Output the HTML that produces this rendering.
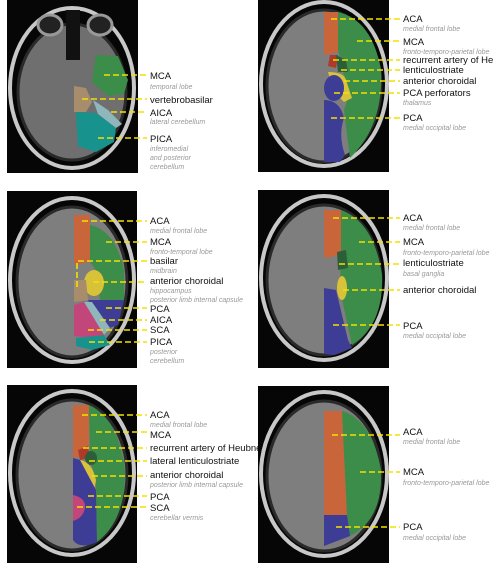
<!DOCTYPE html>
<html><head><meta charset="utf-8"><style>
html,body{margin:0;padding:0;background:#fff;width:493px;height:582px;overflow:hidden}
svg{display:block}
.t{font-family:"Liberation Sans",sans-serif;font-size:9.5px;fill:#111}
.s{font-family:"Liberation Sans",sans-serif;font-size:7px;font-style:italic;fill:#999}
.ld{stroke:#f2e200;stroke-width:1.6;stroke-dasharray:6 3;fill:none}
.sk{fill:none;stroke:#c8c8c8;stroke-width:4}
.br{fill:#7e7e7e;stroke:#2a2a2a;stroke-width:3}
</style></head><body>
<svg width="493" height="582" viewBox="0 0 493 582">

<!-- Panel 1 -->
<g>
<rect x="7" y="0" width="131" height="173" fill="#060606"/>
<ellipse cx="72" cy="88" rx="62" ry="80" class="sk"/>
<ellipse cx="72" cy="92" rx="54" ry="68" class="br" fill="#6f6f6f" style="fill:#6f6f6f"/>
<ellipse cx="50" cy="25" rx="12" ry="10" fill="#222" stroke="#999" stroke-width="3"/>
<ellipse cx="100" cy="25" rx="12" ry="10" fill="#222" stroke="#999" stroke-width="3"/>
<rect x="66" y="10" width="14" height="50" fill="#111"/>
<polygon points="96,55 118,56 128,80 124,94 108,96 92,82" fill="#3c8c4a"/>
<polygon points="74,86 86,88 92,102 86,112 74,112" fill="#a88d6c"/>
<polygon points="93,100 108,110 122,124 116,128 98,114" fill="#8fb5bd"/>
<polygon points="76,112 96,113 116,128 114,142 96,152 78,146" fill="#17928c"/>
<line x1="104" y1="75" x2="147" y2="75" class="ld"/><line x1="82" y1="99" x2="147" y2="99" class="ld"/>
<line x1="111" y1="112" x2="147" y2="112" class="ld"/><line x1="98" y1="138" x2="147" y2="138" class="ld"/>
<text x="150" y="79" class="t">MCA</text><text x="150" y="89" class="s">temporal lobe</text>
<text x="150" y="103" class="t">vertebrobasilar</text>
<text x="150" y="116" class="t">AICA</text><text x="150" y="124" class="s">lateral cerebellum</text>
<text x="150" y="142" class="t">PICA</text><text x="150" y="151" class="s">inferomedial</text><text x="150" y="160" class="s">and posterior</text><text x="150" y="169" class="s">cerebellum</text>
</g>

<!-- Panel 2 -->
<g>
<rect x="258" y="0" width="131" height="172" fill="#060606"/>
<ellipse cx="324" cy="84" rx="63" ry="82" class="sk"/>
<ellipse cx="324" cy="86" rx="57" ry="76" class="br"/>
<polygon points="324,12 338,12 338,52 324,55" fill="#c8653a"/>
<path d="M338,12 Q372,20 381,70 Q384,125 350,158 L344,110 Q352,90 344,75 L338,50 Z" fill="#3c8c4a"/>
<polygon points="330,55 338,55 336,68 328,66" fill="#b03a2a"/>
<polygon points="336,55 346,60 348,72 338,72" fill="#2d5e3a"/>
<path d="M328,72 Q344,72 346,80 L352,98 L344,102 L334,92 Z" fill="#d8c23a"/>
<ellipse cx="334" cy="88" rx="10" ry="13" fill="#3d3d96"/>
<path d="M324,100 Q340,100 344,118 Q338,135 345,155 L340,162 L324,162 Z" fill="#3d3d96"/>
<line x1="331" y1="19" x2="400" y2="19" class="ld"/><line x1="357" y1="41" x2="400" y2="41" class="ld"/>
<line x1="333" y1="60" x2="400" y2="60" class="ld"/><line x1="341" y1="70" x2="400" y2="70" class="ld"/>
<line x1="344" y1="81" x2="400" y2="81" class="ld"/><line x1="334" y1="93" x2="400" y2="93" class="ld"/>
<line x1="331" y1="118" x2="400" y2="118" class="ld"/>
<text x="403" y="22" class="t">ACA</text><text x="403" y="31" class="s">medial frontal lobe</text>
<text x="403" y="45" class="t">MCA</text><text x="403" y="54" class="s">fronto-temporo-parietal lobe</text>
<text x="403" y="63" class="t">recurrent artery of Heubner</text>
<text x="403" y="73" class="t">lenticulostriate</text>
<text x="403" y="84" class="t">anterior choroidal</text>
<text x="403" y="96" class="t">PCA perforators</text><text x="403" y="105" class="s">thalamus</text>
<text x="403" y="121" class="t">PCA</text><text x="403" y="130" class="s">medial occipital lobe</text>
</g>

<!-- Panel 3 -->
<g>
<rect x="7" y="191" width="130" height="177" fill="#060606"/>
<ellipse cx="72" cy="280" rx="62" ry="82" class="sk"/>
<ellipse cx="72" cy="282" rx="55" ry="75" class="br"/>
<polygon points="74,215 90,215 90,262 74,265" fill="#c8653a"/>
<path d="M90,225 Q115,230 124,270 L124,300 L100,300 L96,270 L90,262 Z" fill="#3c8c4a"/>
<ellipse cx="94" cy="283" rx="10" ry="13" fill="#d8c23a"/>
<polygon points="74,280 86,280 88,300 74,302" fill="#a88d6c"/>
<polygon points="88,300 124,300 118,325 104,330" fill="#3d3d96"/>
<polygon points="84,302 92,302 110,328 104,335" fill="#8fb5bd"/>
<polygon points="74,305 84,302 104,335 90,338 74,336" fill="#c2467a"/>
<polygon points="76,338 104,335 110,345 92,350 76,346" fill="#17928c"/>
<line x1="82" y1="221" x2="147" y2="221" class="ld"/><line x1="106" y1="242" x2="147" y2="242" class="ld"/>
<polyline points="147,261 77,261 77,289" class="ld"/><line x1="93" y1="282" x2="147" y2="282" class="ld"/>
<line x1="106" y1="308" x2="147" y2="308" class="ld"/><line x1="100" y1="320" x2="147" y2="320" class="ld"/>
<line x1="88" y1="330" x2="147" y2="330" class="ld"/><line x1="89" y1="342" x2="147" y2="342" class="ld"/>
<text x="150" y="224" class="t">ACA</text><text x="150" y="233" class="s">medial frontal lobe</text>
<text x="150" y="245" class="t">MCA</text><text x="150" y="254" class="s">fronto-temporal lobe</text>
<text x="150" y="264" class="t">basilar</text><text x="150" y="273" class="s">midbrain</text>
<text x="150" y="284" class="t">anterior choroidal</text><text x="150" y="293" class="s">hippocampus</text><text x="150" y="302" class="s">posterior limb internal capsule</text>
<text x="150" y="312" class="t">PCA</text><text x="150" y="323" class="t">AICA</text><text x="150" y="333" class="t">SCA</text>
<text x="150" y="345" class="t">PICA</text><text x="150" y="354" class="s">posterior</text><text x="150" y="363" class="s">cerebellum</text>
</g>

<!-- Panel 4 -->
<g>
<rect x="258" y="190" width="131" height="178" fill="#060606"/>
<ellipse cx="324" cy="278" rx="63" ry="82" class="sk"/>
<ellipse cx="324" cy="280" rx="57" ry="75" class="br"/>
<polygon points="324,210 341,210 341,255 324,258" fill="#c8653a"/>
<path d="M341,210 Q374,222 382,275 Q384,325 352,345 L340,290 L341,255 Z" fill="#3c8c4a"/>
<polygon points="337,252 346,250 348,268 338,270" fill="#2d5e3a"/>
<ellipse cx="342" cy="288" rx="5" ry="12" fill="#d8c23a"/>
<polygon points="324,288 336,290 348,340 352,348 334,355 324,354" fill="#3d3d96"/>
<line x1="333" y1="218" x2="400" y2="218" class="ld"/><line x1="359" y1="242" x2="400" y2="242" class="ld"/>
<line x1="339" y1="264" x2="400" y2="264" class="ld"/><line x1="343" y1="290" x2="400" y2="290" class="ld"/>
<line x1="333" y1="325" x2="400" y2="325" class="ld"/>
<text x="403" y="221" class="t">ACA</text><text x="403" y="230" class="s">medial frontal lobe</text>
<text x="403" y="245" class="t">MCA</text><text x="403" y="255" class="s">fronto-temporo-parietal lobe</text>
<text x="403" y="266" class="t">lenticulostriate</text><text x="403" y="276" class="s">basal ganglia</text>
<text x="403" y="293" class="t">anterior choroidal</text>
<text x="403" y="329" class="t">PCA</text><text x="403" y="338" class="s">medial occipital lobe</text>
</g>

<!-- Panel 5 -->
<g>
<rect x="7" y="385" width="130" height="178" fill="#060606"/>
<ellipse cx="72" cy="473" rx="62" ry="82" class="sk"/>
<ellipse cx="72" cy="475" rx="55" ry="75" class="br"/>
<polygon points="73,405 89,405 89,455 73,458" fill="#c8653a"/>
<path d="M89,405 Q118,418 125,470 Q126,520 97,542 L96,480 L90,460 Z" fill="#3c8c4a"/>
<polygon points="78,450 88,446 90,458 80,460" fill="#b03a2a"/>
<ellipse cx="91" cy="458" rx="6" ry="7" fill="#2d5e3a"/>
<path d="M80,460 Q92,462 96,480 L94,490 L84,480 Z" fill="#d8c23a"/>
<path d="M73,458 L80,460 L96,490 L97,542 Q80,550 73,540 Z" fill="#3d3d96"/>
<path d="M73,495 Q86,498 85,508 Q83,518 73,521 Z" fill="#c2467a"/>
<line x1="82" y1="415" x2="147" y2="415" class="ld"/><line x1="96" y1="432" x2="147" y2="432" class="ld"/>
<line x1="83" y1="448" x2="147" y2="448" class="ld"/><line x1="89" y1="461" x2="147" y2="461" class="ld"/>
<line x1="92" y1="476" x2="147" y2="476" class="ld"/><line x1="88" y1="496" x2="147" y2="496" class="ld"/>
<line x1="77" y1="507" x2="147" y2="507" class="ld"/>
<text x="150" y="418" class="t">ACA</text><text x="150" y="427" class="s">medial frontal lobe</text>
<text x="150" y="438" class="t">MCA</text>
<text x="150" y="451" class="t">recurrent artery of Heubner</text>
<text x="150" y="464" class="t">lateral lenticulostriate</text>
<text x="150" y="478" class="t">anterior choroidal</text><text x="150" y="487" class="s">posterior limb internal capsule</text>
<text x="150" y="500" class="t">PCA</text><text x="150" y="511" class="t">SCA</text><text x="150" y="520" class="s">cerebellar vermis</text>
</g>

<!-- Panel 6 -->
<g>
<rect x="258" y="386" width="131" height="177" fill="#060606"/>
<ellipse cx="324" cy="474" rx="63" ry="82" class="sk"/>
<ellipse cx="324" cy="476" rx="57" ry="75" class="br"/>
<polygon points="324,411 342,411 347,515 324,515" fill="#c8653a"/>
<path d="M342,411 Q372,420 381,470 Q383,520 350,536 L347,515 Z" fill="#3c8c4a"/>
<polygon points="324,515 347,515 350,536 324,546" fill="#3d3d96"/>
<line x1="332" y1="435" x2="400" y2="435" class="ld"/><line x1="360" y1="472" x2="400" y2="472" class="ld"/>
<line x1="336" y1="527" x2="400" y2="527" class="ld"/>
<text x="403" y="435" class="t">ACA</text><text x="403" y="444" class="s">medial frontal lobe</text>
<text x="403" y="475" class="t">MCA</text><text x="403" y="485" class="s">fronto-temporo-parietal lobe</text>
<text x="403" y="530" class="t">PCA</text><text x="403" y="540" class="s">medial occipital lobe</text>
</g>
</svg>
</body></html>
